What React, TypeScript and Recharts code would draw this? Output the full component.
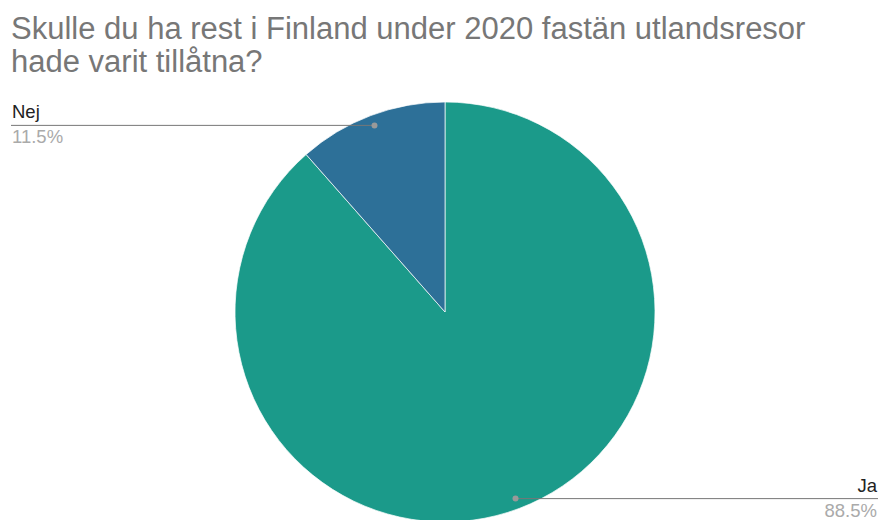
import { PieChart, Pie, Cell } from "recharts";

const TITLE_LINES = [
  "Skulle du ha rest i Finland under 2020 fastän utlandsresor",
  "hade varit tillåtna?",
];
const answers = ["Ja", "Nej"];
const shares = [88.5, 11.5];
const sliceColors = ["#1b9a8a", "#2d7098"];

const data = answers.map((name, i) => ({ name, value: shares[i] }));

const RADIAN = Math.PI / 180;
const FONT = "'Liberation Sans', Arial, sans-serif";

// label with a horizontal leader running to the chart edge
const renderLabel = (props: any) => {
  const { cx, cy, midAngle, outerRadius, name, value, index } = props;
  const r = outerRadius * 0.95;
  const px = cx + r * Math.cos(-midAngle * RADIAN);
  const py = cy + r * Math.sin(-midAngle * RADIAN);
  const left = px < cx;
  const endX = left ? 11 : 878;
  return (
    <g key={`lbl-${index}`}>
      <line x1={px} y1={py} x2={endX} y2={py} stroke="#777" strokeWidth={1} />
      <circle cx={px} cy={py} r={3} fill="#999" />
      <text
        x={endX + (left ? 1 : -1)}
        y={py - 7}
        textAnchor={left ? "start" : "end"}
        fontFamily={FONT}
        fontSize={18.5}
        fill="#222"
      >
        {name}
      </text>
      <text
        x={endX + (left ? 1 : -1)}
        y={py + 18}
        textAnchor={left ? "start" : "end"}
        fontFamily={FONT}
        fontSize={18.5}
        fill="#aaa"
      >
        {value.toFixed(1)}%
      </text>
    </g>
  );
};

export default function App() {
  return (
    <div
      style={{
        position: "absolute",
        left: 0,
        top: 0,
        width: 880,
        height: 520,
        background: "#fff",
        overflow: "hidden",
      }}
    >
      <div
        style={{
          position: "absolute",
          left: 11,
          top: 12,
          fontFamily: FONT,
          fontSize: 31,
          lineHeight: "33px",
          color: "#777",
          whiteSpace: "nowrap",
        }}
      >
        {TITLE_LINES.map((t) => (
          <div key={t}>{t}</div>
        ))}
      </div>
      <PieChart
        width={880}
        height={520}
        margin={{ top: 0, right: 0, bottom: 0, left: 0 }}
        style={{ position: "absolute", left: 0, top: 0 }}
      >
        <Pie
          data={data}
          dataKey="value"
          nameKey="name"
          cx={445}
          cy={312}
          outerRadius={210}
          startAngle={90}
          endAngle={-270}
          stroke="#ffffff"
          strokeWidth={0.7}
          label={renderLabel}
          labelLine={false}
          isAnimationActive={false}
        >
          {data.map((d, i) => (
            <Cell key={d.name} fill={sliceColors[i]} />
          ))}
        </Pie>
      </PieChart>
    </div>
  );
}
